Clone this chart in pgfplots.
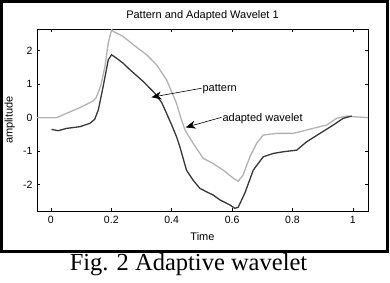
\documentclass[border=0pt]{standalone}
\usepackage{pgfplots}
\pgfplotsset{compat=1.18}
\usepackage{fontspec}
\setmainfont{Liberation Sans}
\newfontfamily\capfont{Liberation Serif}
\usetikzlibrary{arrows.meta}
\definecolor{lightline}{RGB}{178,178,178}
\definecolor{darkline}{RGB}{55,55,55}
\begin{document}
\begin{tikzpicture}[x=1pt,y=1pt]
\useasboundingbox (0,0) rectangle (390,282);
\draw[line width=3pt] (1.5,30.5) rectangle (387.5,280.5);
\node[font=\capfont\fontsize{24.5}{27}\selectfont, anchor=base] at (188.5,12) {Fig. 2 Adaptive wavelet};
\node[font=\fontsize{11}{13}\selectfont, anchor=center] at (202.5,266.5) {Pattern and Adapted Wavelet 1};
\begin{axis}[
  at={(37pt,71pt)}, anchor=south west,
  scale only axis, width=331pt, height=182pt,
  xmin=-0.046, xmax=1.05, ymin=-2.79, ymax=2.65,
  xtick={0,0.2,0.4,0.6,0.8,1}, xticklabels={0,0.2,0.4,0.6,0.8,1},
  ytick={-2,-1,0,1,2}, yticklabels={-2,-1,0,1,2},
  /pgf/number format/assume math mode=true,
  tick align=inside, major tick length=3pt,
  axis line style={line width=0.8pt, black},
  tick style={line width=0.7pt, black},
  tick label style={font=\fontsize{10.5}{12}\selectfont},
  xticklabel style={yshift=-2pt},
  yticklabel style={xshift=-1pt},
  xlabel={Time},
  xlabel style={at={(axis description cs:0.5,-0.143)}, anchor=center, font=\fontsize{11}{13}\selectfont},
  ylabel={amplitude},
  ylabel style={at={(axis description cs:-0.082,0.5)}, anchor=center, rotate=0, font=\fontsize{11}{13}\selectfont},
  clip=true,
]
\addplot[lightline, line width=1.3pt] coordinates {
(-0.046,0.0) (0.019,0.0) (0.052,0.13) (0.096,0.30) (0.140,0.50) (0.150,0.60)
(0.165,0.95) (0.179,1.53) (0.190,2.23) (0.201,2.63) (0.206,2.58) (0.239,2.43)
(0.273,2.18) (0.317,1.88) (0.350,1.58) (0.383,1.13) (0.416,0.43) (0.430,0.0)
(0.444,-0.37) (0.471,-0.77) (0.505,-1.22) (0.537,-1.37) (0.571,-1.57)
(0.604,-1.81) (0.620,-1.90) (0.636,-1.72) (0.659,-1.17) (0.681,-0.77)
(0.703,-0.52) (0.747,-0.47) (0.802,-0.47) (0.825,-0.42) (0.868,-0.32)
(0.913,-0.22) (0.946,-0.02) (0.979,0.05) (1.0,0.03) (1.05,0.0)
};
\addplot[darkline, line width=1.3pt] coordinates {
(0.002,-0.35) (0.024,-0.39) (0.052,-0.32) (0.096,-0.27) (0.129,-0.17)
(0.145,-0.05) (0.157,0.23) (0.173,0.93) (0.190,1.73) (0.201,1.88)
(0.217,1.78) (0.239,1.63) (0.262,1.43) (0.306,1.08) (0.344,0.73)
(0.367,0.45) (0.383,0.13) (0.399,-0.20) (0.416,-0.57) (0.427,-0.87)
(0.449,-1.57) (0.471,-1.87) (0.493,-2.11) (0.516,-2.22) (0.537,-2.31)
(0.560,-2.46) (0.593,-2.61) (0.609,-2.71) (0.620,-2.68) (0.642,-2.26)
(0.670,-1.57) (0.703,-1.17) (0.736,-1.07) (0.769,-1.02) (0.814,-0.97)
(0.847,-0.72) (0.891,-0.47) (0.935,-0.22) (0.968,-0.02) (0.996,0.05)
};
\draw[line width=0.6pt, -{Stealth[length=10pt,width=8pt]}] (axis cs:0.499,0.88) -- (axis cs:0.333,0.61);
\node[anchor=west, inner sep=0.5pt, font=\fontsize{11}{13}\selectfont] at (axis cs:0.500,0.84) {pattern};
\draw[line width=0.6pt, -{Stealth[length=10pt,width=8pt]}] (axis cs:0.565,0.01) -- (axis cs:0.446,-0.29);
\node[anchor=west, inner sep=0.5pt, font=\fontsize{11}{13}\selectfont] at (axis cs:0.566,-0.03) {adapted wavelet};
\end{axis}
\end{tikzpicture}
\end{document}
